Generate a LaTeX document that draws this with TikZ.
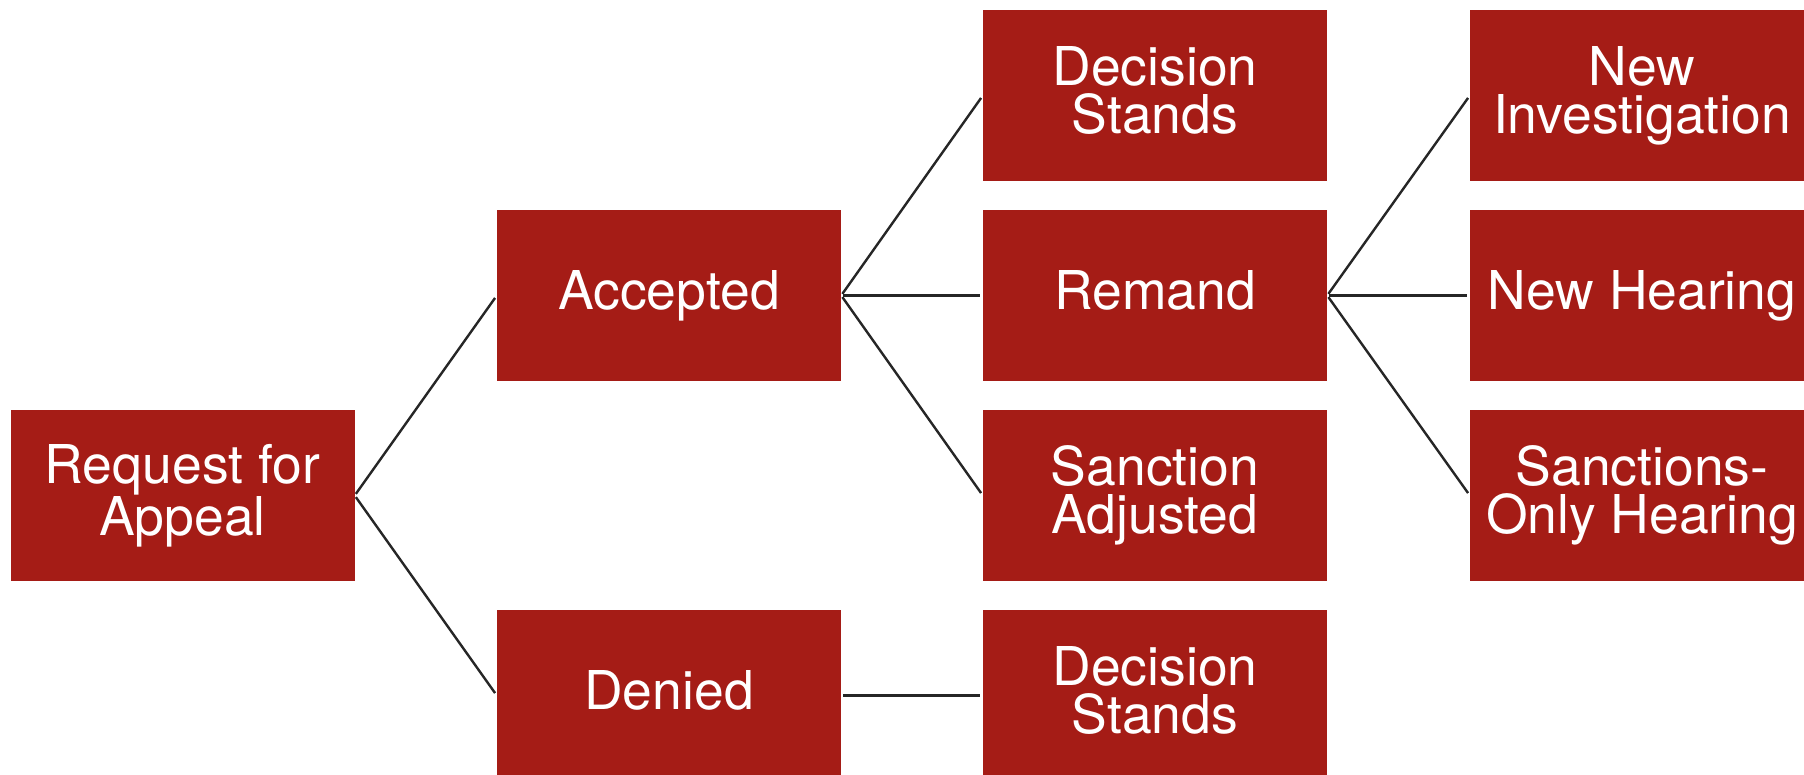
\documentclass[tikz,border=0pt]{standalone}
\usepackage{fontspec}
\setmainfont{TeX Gyre Heros}
\definecolor{boxred}{HTML}{A51C16}
\definecolor{linegray}{HTML}{262626}
\newcommand{\lastline}{\vphantom{Ag}}
\begin{document}
\begin{tikzpicture}[x=1pt,y=-1pt,
  box/.style={fill=boxred,text=white,minimum width=344pt,minimum height=171pt,
    inner sep=0pt,align=center,font=\fontsize{53.5}{48}\selectfont},
  conn/.style={draw=linegray,line width=2.4pt,shorten <=2pt,shorten >=3pt}]
\useasboundingbox (0,0) rectangle (1804,775);
\node[box] (req) at (182.5,495.5) {Request for\\Appeal\lastline};
\node[box] (acc) at (669,295.5) {Accepted\lastline};
\node[box] (den) at (669,695.5) {Denied\lastline};
\node[box] (ds1) at (1155,95.5) {Decision\\Stands\lastline};
\node[box] (rem) at (1155,295.5) {Remand\lastline};
\node[box] (sa) at (1155,495.5) {Sanction\\Adjusted\lastline};
\node[box] (ds2) at (1155,695.5) {Decision\\Stands\lastline};
\node[box] (ni) at (1642,95.5) {New\\Investigation\lastline};
\node[box] (nh) at (1642,295.5) {New Hearing\lastline};
\node[box] (so) at (1642,495.5) {Sanctions-\\Only Hearing\lastline};
\draw[conn] (req.east) -- (acc.west);
\draw[conn] (req.east) -- (den.west);
\draw[conn] (acc.east) -- (ds1.west);
\draw[conn] (acc.east) -- (rem.west);
\draw[conn] (acc.east) -- (sa.west);
\draw[conn] (den.east) -- (ds2.west);
\draw[conn] (rem.east) -- (ni.west);
\draw[conn] (rem.east) -- (nh.west);
\draw[conn] (rem.east) -- (so.west);
\end{tikzpicture}
\end{document}
